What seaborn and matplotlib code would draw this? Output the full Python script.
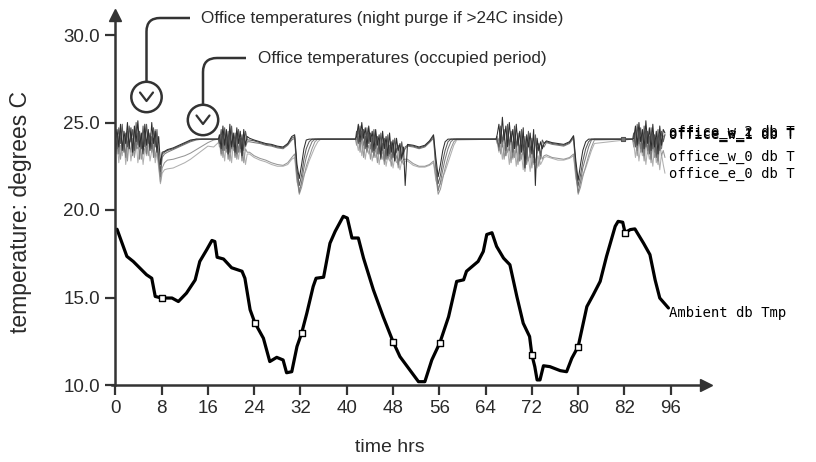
import numpy as np
import pandas as pd
import matplotlib
matplotlib.use("Agg")
import matplotlib.pyplot as plt
import seaborn as sns
from matplotlib.patches import Circle, PathPatch
from matplotlib.path import Path
from matplotlib.transforms import IdentityTransform
from matplotlib.lines import Line2D

# ---------------- data ----------------
office_hours = [
    # night (purge) noise
    0.0, 0.3, 0.6, 0.9, 1.2, 1.5, 1.8, 2.1, 2.4, 2.7, 3.0, 3.3, 3.6, 3.9, 4.2, 4.5, 4.8, 5.1, 5.4, 5.7, 6.0, 6.3, 6.6, 6.9, 7.2, 7.5,
    # occupied day 1
    7.8, 8.1, 8.5, 9, 10, 11, 12, 13, 14, 15, 16, 17, 17.8,
    # noise
    18.0, 18.3, 18.6, 18.9, 19.2, 19.5, 19.8, 20.1, 20.4, 20.7, 21.0, 21.3, 21.6, 21.9, 22.2, 22.5, 22.8,
    # decline + dip + flat
    23.2, 24, 25, 26, 27, 28, 29, 29.8, 30.5, 31.0, 31.4, 31.8, 32.2, 32.6, 33.0, 33.5, 34.0, 34.5, 35.0, 35.5, 41.5,
    # noise
    41.7, 42.0, 42.3, 42.6, 42.9, 43.2, 43.5, 43.8, 44.1, 44.4, 44.7, 45.0, 45.3, 45.6, 45.9, 46.2, 46.5, 46.8, 47.1, 47.4,
    47.7, 48.0, 48.3, 48.6, 48.9, 49.2, 49.5, 49.8, 50.1,
    # decline + dip + flat
    50.5, 51.5, 52.5, 53.5, 54.3, 55.0, 55.4, 55.8, 56.2, 56.6, 57.0, 57.5, 58.0, 58.5, 59.0, 65.8,
    # noise
    66.0, 66.3, 66.6, 66.9, 67.2, 67.5, 67.8, 68.1, 68.4, 68.7, 69.0, 69.3, 69.6, 69.9, 70.2, 70.5, 70.8, 71.1, 71.4, 71.7,
    72.0, 72.3, 72.6, 72.9, 73.2, 73.5, 73.8, 74.1,
    # decline + dip + flat
    74.5, 75.5, 76.5, 77.5, 78.5, 79.2, 79.6, 80.0, 80.4, 80.8, 81.3, 81.8, 82.3, 82.8, 89.4,
    # noise
    89.6, 89.9, 90.2, 90.5, 90.8, 91.1, 91.4, 91.7, 92.0, 92.3, 92.6, 92.9, 93.2, 93.5, 93.8, 94.1, 94.4, 94.7, 95.0,
]

office_w_2 = [
    24.0, 24.6, 23.6, 24.9, 23.4, 24.5, 23.8, 25.0, 23.5, 24.7, 23.3, 24.8, 23.9, 25.1, 23.6, 24.4, 23.2, 24.9, 23.7, 24.6, 23.4, 25.0, 23.8, 24.5, 23.3, 24.2,
    22.6, 23.3, 23.35, 23.45, 23.55, 23.7, 23.85, 24.0, 24.05, 24.05, 24.05, 24.05, 24.05,
    24.3, 23.5, 24.8, 23.7, 24.6, 23.2, 24.9, 23.6, 24.4, 23.3, 24.7, 23.8, 24.5, 23.1, 24.6, 23.7, 24.2,
    24.1, 24.0, 23.9, 23.8, 23.75, 23.65, 23.6, 23.8, 24.2, 24.3, 22.6, 21.8, 22.6, 23.5, 24.0, 24.05, 24.05, 24.05, 24.05, 24.05, 24.05,
    24.2, 24.9, 23.9, 25.0, 24.1, 24.7, 23.6, 24.8, 23.9, 24.5, 23.4, 24.6, 23.7, 24.3, 22.9, 24.5, 23.5, 24.2, 23.1, 24.4,
    23.3, 24.0, 22.8, 24.1, 23.4, 23.8, 22.9, 23.6, 21.4,
    23.75, 23.7, 23.6, 23.7, 23.95, 24.3, 23.0, 21.9, 22.6, 23.4, 23.9, 24.05, 24.05, 24.05, 24.05, 24.05,
    24.3, 24.9, 23.8, 25.3, 24.0, 24.8, 23.6, 25.0, 23.9, 24.6, 23.5, 24.9, 23.7, 24.5, 23.3, 24.7, 22.4, 24.3, 23.6, 24.4,
    23.2, 24.6, 21.4, 24.1, 23.4, 23.9, 23.5, 23.8,
    23.95, 23.85, 23.8, 23.75, 23.9, 24.25, 22.8, 21.7, 22.6, 23.4, 23.9, 24.05, 24.05, 24.05, 24.05,
    24.1, 24.8, 23.7, 25.0, 23.9, 24.6, 23.5, 25.1, 23.8, 24.7, 23.4, 24.9, 23.6, 24.5, 23.2, 24.8, 23.7, 24.6, 24.4,
]
office_e_1 = [
    24.3, 23.5, 24.7, 23.8, 24.9, 23.3, 24.4, 23.6, 24.8, 23.9, 24.6, 23.4, 25.0, 23.7, 24.5, 23.5, 24.8, 23.6, 24.9, 23.8, 24.4, 23.5, 24.7, 23.6, 24.6, 23.0,
    22.2, 23.2, 23.3, 23.4, 23.5, 23.65, 23.8, 23.95, 24.05, 24.05, 24.05, 24.05, 24.05,
    23.8, 24.6, 23.4, 24.7, 23.5, 24.5, 23.3, 24.8, 23.6, 24.4, 23.2, 24.6, 23.5, 24.3, 23.4, 24.5, 24.0,
    24.0, 23.95, 23.85, 23.75, 23.7, 23.6, 23.55, 23.75, 24.1, 24.2, 22.3, 21.4, 22.0, 22.9, 23.5, 23.9, 24.05, 24.05, 24.05, 24.05, 24.05,
    24.5, 23.8, 24.8, 24.0, 24.6, 23.5, 24.7, 23.8, 24.4, 23.3, 24.6, 23.5, 24.2, 23.2, 24.4, 23.4, 24.1, 22.9, 24.3, 23.2,
    23.9, 23.0, 24.1, 23.3, 23.7, 22.8, 23.9, 23.2, 23.6,
    23.7, 23.65, 23.55, 23.65, 23.9, 24.2, 22.6, 21.5, 22.0, 22.8, 23.4, 23.9, 24.05, 24.05, 24.05, 24.05,
    24.0, 23.6, 24.8, 23.9, 24.6, 23.4, 24.9, 23.7, 24.5, 23.3, 24.8, 23.6, 24.4, 23.2, 24.6, 23.4, 24.2, 22.9, 24.5, 23.3,
    24.1, 23.0, 24.3, 23.4, 23.8, 23.1, 24.0, 23.8,
    23.9, 23.8, 23.75, 23.7, 23.85, 24.2, 22.5, 21.4, 22.0, 22.8, 23.5, 23.9, 24.05, 24.05, 24.05,
    24.4, 23.6, 24.9, 23.8, 24.7, 23.3, 24.8, 23.6, 24.5, 23.2, 24.7, 23.5, 24.3, 23.0, 24.6, 23.4, 24.5, 23.9, 24.3,
]
office_w_1 = [
    23.8, 24.4, 23.2, 24.6, 23.6, 24.2, 23.0, 24.5, 23.7, 24.3, 23.1, 24.6, 23.5, 24.4, 22.9, 24.3, 23.6, 24.5, 23.2, 24.4, 23.7, 24.2, 23.0, 24.6, 23.5, 22.8,
    21.9, 23.0, 23.2, 23.3, 23.45, 23.6, 23.75, 23.9, 24.0, 24.05, 24.05, 24.05, 24.05,
    24.1, 23.2, 24.5, 23.4, 24.3, 22.9, 24.4, 23.5, 24.2, 23.0, 24.5, 23.3, 24.1, 22.8, 24.3, 23.6, 23.9,
    23.9, 23.85, 23.8, 23.7, 23.65, 23.55, 23.5, 23.7, 24.0, 24.1, 22.0, 21.0, 21.6, 22.4, 23.0, 23.5, 23.9, 24.05, 24.05, 24.05, 24.05,
    24.0, 24.6, 23.6, 24.5, 23.7, 24.2, 23.3, 24.4, 23.5, 24.1, 23.0, 24.3, 23.2, 24.0, 23.4, 23.8, 22.8, 24.0, 23.0, 23.7,
    22.9, 23.8, 23.1, 23.5, 22.6, 23.6, 23.0, 23.3, 23.5,
    23.65, 23.6, 23.5, 23.6, 23.85, 24.1, 22.3, 21.1, 21.6, 22.3, 22.9, 23.5, 23.9, 24.05, 24.05, 24.05,
    24.2, 23.4, 24.5, 23.6, 24.3, 23.1, 24.6, 23.4, 24.2, 23.0, 24.4, 23.3, 24.1, 22.8, 24.3, 23.2, 23.9, 22.6, 24.2, 23.0,
    23.8, 22.7, 24.0, 23.2, 23.6, 22.9, 23.7, 23.6,
    23.85, 23.75, 23.7, 23.65, 23.8, 24.1, 22.2, 21.0, 21.6, 22.4, 23.0, 23.6, 24.0, 24.05, 24.05,
    23.9, 24.5, 23.4, 24.6, 23.5, 24.3, 23.1, 24.5, 23.4, 24.2, 22.9, 24.4, 23.3, 24.1, 22.8, 24.3, 23.5, 24.2, 24.3,
]
office_w_0 = [
    23.9, 23.2, 24.2, 22.9, 23.8, 23.4, 24.3, 22.8, 23.9, 23.3, 24.1, 23.0, 23.7, 23.5, 24.2, 22.9, 23.6, 23.4, 24.0, 23.1, 23.8, 23.3, 24.1, 23.0, 23.6, 22.6,
    21.6, 22.4, 22.7, 22.85, 22.9, 23.0, 23.1, 23.25, 23.45, 23.65, 23.85, 24.0, 24.05,
    23.6, 24.2, 23.0, 23.9, 23.3, 24.1, 22.8, 23.7, 23.4, 24.0, 22.9, 23.6, 23.3, 23.9, 22.7, 23.5, 23.3,
    23.3, 23.1, 22.95, 22.85, 22.7, 22.6, 22.55, 22.7, 23.0, 23.2, 21.8, 20.9, 21.3, 21.9, 22.5, 23.0, 23.5, 23.9, 24.05, 24.05, 24.05,
    23.7, 24.2, 23.3, 24.1, 23.0, 23.9, 23.4, 23.7, 22.9, 23.8, 23.1, 23.5, 22.7, 23.6, 23.0, 23.4, 22.6, 23.5, 22.9, 23.2,
    22.5, 23.3, 22.8, 23.1, 22.4, 23.2, 22.7, 22.9, 22.9,
    22.9, 22.65, 22.5, 22.5, 22.6, 22.8, 21.9, 20.9, 21.2, 21.8, 22.4, 23.0, 23.5, 23.9, 24.05, 24.05,
    23.8, 24.1, 23.2, 24.0, 22.9, 23.8, 23.3, 23.6, 22.7, 23.9, 23.0, 23.5, 22.6, 23.7, 22.9, 23.4, 22.2, 23.6, 22.8, 23.3,
    22.4, 23.4, 22.7, 23.2, 22.5, 23.3, 22.9, 23.1,
    23.15, 23.0, 22.95, 22.9, 23.0, 23.2, 22.0, 20.9, 21.3, 21.9, 22.5, 23.1, 23.6, 24.0, 24.05,
    23.6, 24.2, 23.1, 24.0, 23.3, 23.8, 22.8, 24.0, 23.2, 23.7, 22.7, 23.9, 23.0, 23.6, 22.6, 23.8, 23.1, 23.4, 23.0,
]
office_e_0 = [
    23.6, 24.0, 22.7, 23.7, 23.1, 24.0, 22.6, 23.5, 23.9, 22.8, 23.6, 23.2, 24.0, 22.7, 23.4, 23.8, 22.6, 23.5, 23.1, 23.9, 22.8, 23.4, 23.7, 22.7, 23.3, 22.4,
    21.5, 22.1, 22.3, 22.35, 22.4, 22.55, 22.7, 22.9, 23.15, 23.4, 23.65, 23.6, 23.85,
    23.8, 23.1, 23.7, 22.8, 23.9, 23.2, 23.6, 22.7, 23.8, 23.1, 23.5, 22.9, 23.7, 23.0, 23.4, 22.6, 23.2,
    23.2, 23.0, 22.85, 22.75, 22.6, 22.5, 22.5, 22.6, 22.9, 23.0, 21.6, 21.2, 21.5, 22.0, 22.3, 22.8, 23.2, 23.6, 23.9, 24.05, 24.05,
    23.9, 23.4, 24.0, 23.1, 23.8, 22.9, 23.6, 23.2, 23.7, 22.8, 23.4, 23.0, 23.5, 22.6, 23.3, 22.9, 23.4, 22.5, 23.1, 22.8,
    23.2, 22.4, 23.0, 22.7, 22.9, 22.3, 22.8, 22.6, 22.8,
    22.8, 22.55, 22.45, 22.45, 22.55, 22.7, 21.7, 21.3, 21.5, 21.9, 22.2, 22.7, 23.2, 23.7, 24.0, 24.05,
    23.9, 23.3, 23.8, 22.9, 23.7, 23.1, 23.5, 22.6, 23.6, 22.9, 23.4, 22.5, 23.5, 22.8, 23.2, 22.3, 23.4, 22.7, 23.0, 22.2,
    23.3, 22.6, 22.9, 22.4, 23.1, 22.6, 22.8, 23.0,
    23.05, 22.95, 22.85, 22.85, 22.95, 23.1, 21.8, 21.3, 21.6, 22.0, 22.4, 22.9, 23.4, 23.8, 24.05,
    23.8, 23.0, 23.9, 22.8, 23.6, 23.1, 23.7, 22.6, 23.5, 22.9, 23.4, 22.5, 23.6, 22.7, 23.3, 22.3, 23.2, 22.6, 22.1,
]

office_names = ["office_e_0", "office_w_0", "office_w_1", "office_e_1", "office_w_2"]
office_colors = ["#b0b0b0", "#969696", "#7a7a7a", "#5a5a5a", "#2e2e2e"]
office_label_y = [22.05, 23.02, 24.28, 24.33, 24.48]

ambient_hours = [0.3, 2.0, 3.1, 5.4, 6.3, 6.9, 8.0, 9.8, 10.9, 12.3, 13.8, 14.6, 15.8, 16.7, 17.2, 17.6, 18.7,
                 20.1, 21.9, 22.4, 23.3, 24.1, 25.6, 26.7, 27.9, 29.0, 29.6, 30.5, 31.4, 32.2, 33.1, 34.2,
                 34.7, 36.0, 37.1, 38.0, 39.4, 40.1, 40.9, 42.0, 42.9, 44.6, 46.3, 48.0, 49.2, 50.9, 52.4,
                 53.5, 54.7, 56.1, 57.6, 59.0, 60.2, 60.7, 62.7, 63.6, 64.2, 65.1, 65.9, 67.1, 68.2, 69.4,
                 70.5, 71.6, 72.0, 72.5, 72.9, 73.4, 74.0, 75.1, 76.9, 78.0, 78.9, 80.0, 81.5, 82.6, 83.8,
                 84.9, 86.4, 86.9, 87.7, 88.1, 89.0, 89.8, 91.3, 92.4, 93.3, 94.1, 95.6]
ambient_temp = [18.9, 17.35, 17.06, 16.3, 16.1, 15.06, 14.97, 14.97, 14.77, 15.25, 16.0, 17.06, 17.73, 18.26, 18.2,
                17.3, 17.2, 16.7, 16.5, 16.1, 14.3, 13.57, 12.67, 11.34, 11.58, 11.43, 10.7, 10.76, 12.2, 12.96,
                14.1, 15.63, 16.1, 16.16, 18.1, 18.78, 19.64, 19.54, 18.4, 18.4, 17.25, 15.44, 13.9, 12.48, 11.62,
                10.86, 10.19, 10.19, 11.43, 12.42, 13.9, 15.92, 16.01, 16.5, 17.06, 17.63, 18.6, 18.7, 17.92,
                17.25, 16.87, 15.06, 13.53, 12.77, 11.72, 11.05, 10.29, 10.29, 11.1, 11.05, 10.82, 10.76, 11.53,
                12.2, 14.48, 15.15, 15.92, 17.35, 19.07, 19.35, 19.3, 18.7, 18.88, 18.92, 18.1, 17.45, 16.0,
                14.97, 14.4]
ambient_marker_hours = [8.0, 24.1, 32.2, 48.0, 56.1, 72.0, 80.0, 88.1]
ambient_marker_temp = [14.97, 13.57, 12.96, 12.48, 12.42, 11.72, 12.2, 18.7]

x_ticks = [0, 8, 16, 24, 32, 40, 48, 56, 64, 72, 80, 88, 96]
x_tick_labels = ["0", "8", "16", "24", "32", "40", "48", "56", "64", "72", "80", "82", "96"]
y_ticks = [10.0, 15.0, 20.0, 25.0, 30.0]

note_night = "Office temperatures (night purge if >24C inside)"
note_occupied = "Office temperatures (occupied period)"

# ---------------- figure ----------------
sns.set_theme(style="white")
plt.rcParams["font.family"] = ["Liberation Sans", "DejaVu Sans"]

W, H = 816, 462
fig = plt.figure(figsize=(W / 100, H / 100), dpi=100)
fig.patch.set_facecolor("white")

ax_l, ax_r, ax_b, ax_t = 115.3, 706.0, 385.0, 15.0  # pixel edges
ax = fig.add_axes([ax_l / W, (H - ax_b) / H, (ax_r - ax_l) / W, (ax_b - ax_t) / H])
px_per_h = 5.786
px_per_c = 17.5
ax.set_xlim(0, (ax_r - ax_l) / px_per_h)
ax.set_ylim(10, 10 + (ax_b - ax_t) / px_per_c)

office_series = {
    "office_e_0": office_e_0, "office_w_0": office_w_0, "office_w_1": office_w_1,
    "office_e_1": office_e_1, "office_w_2": office_w_2,
}
rows = []
for name in office_names:
    for h, v in zip(office_hours, office_series[name]):
        rows.append((name, h, v))
df = pd.DataFrame(rows, columns=["series", "hours", "temp"])

sns.lineplot(data=df, x="hours", y="temp", hue="series", hue_order=office_names,
             palette=dict(zip(office_names, office_colors)), estimator=None, sort=False,
             linewidth=0.75, legend=False, ax=ax)
sns.scatterplot(x=[87.8], y=[24.05], marker="s", s=10, color="#777777", edgecolor="#555555",
                linewidth=0.8, ax=ax, legend=False, zorder=3)

sns.lineplot(x=ambient_hours, y=ambient_temp, color="black", linewidth=2.3, estimator=None,
             sort=False, ax=ax, legend=False)
sns.scatterplot(x=ambient_marker_hours, y=ambient_marker_temp, marker="s", s=16, color="white",
                edgecolor="black", linewidth=1.0, ax=ax, legend=False, zorder=4)

# series labels at the right end (overlapping as in the source chart)
mono = "DejaVu Sans Mono"
for name, ly in zip(office_names, office_label_y):
    ax.text(95.7, ly, f"{name} db T", fontsize=10.0, family=mono, color="black",
            va="center", ha="left", clip_on=False)
ax.text(95.7, 14.1, "Ambient db Tmp", fontsize=10.0, family=mono, color="black",
        va="center", ha="left", clip_on=False)

# axes styling
axis_col = "#333333"
for s in ["top", "right"]:
    ax.spines[s].set_visible(False)
for s in ["left", "bottom"]:
    ax.spines[s].set_color(axis_col)
    ax.spines[s].set_linewidth(1.8)
ax.spines["bottom"].set_bounds(-0.6, ax.get_xlim()[1])
ax.set_xticks(x_ticks)
ax.set_xticklabels(x_tick_labels)
ax.set_yticks(y_ticks)
ax.set_yticklabels([f"{v:.1f}" for v in y_ticks])
ax.tick_params(axis="both", direction="out", length=7, width=1.6, color=axis_col,
               labelcolor="#2a2a2a", labelsize=13.5, pad=4, bottom=True, left=True)
ax.plot(1, 0, marker=">", markersize=9, color=axis_col, transform=ax.transAxes, clip_on=False)
ax.plot(0, 1, marker="^", markersize=9, color=axis_col, transform=ax.transAxes, clip_on=False)

ax.set_xlabel("time hrs", fontsize=14, color="#2a2a2a")
ax.set_ylabel("temperature: degrees C", fontsize=16.5, color="#2a2a2a")
ax.xaxis.set_label_coords((390 - ax_l) / (ax_r - ax_l), -(447 - ax_b) / (ax_b - ax_t))
ax.xaxis.label.set_va("center")
ax.yaxis.set_label_coords((21 - ax_l) / (ax_r - ax_l), (ax_b - 212) / (ax_b - ax_t))
ax.yaxis.label.set_va("center")

# ---------------- callouts (pixel coordinates, y measured from top) ----------------
ident = IdentityTransform()
def P(x, y):
    return (x, H - y)

def callout(cx, cy, corner_x, end_x, text_x, text_y, text):
    circ = Circle(P(cx, cy), 15.2, transform=ident, facecolor="white", edgecolor=axis_col,
                  linewidth=1.8, zorder=10)
    fig.add_artist(circ)
    chev = Line2D([cx - 6.5, cx, cx + 6.5], [H - (cy - 4.5), H - (cy + 4.0), H - (cy - 4.5)],
                  transform=ident, color=axis_col, linewidth=1.6, zorder=11)
    fig.add_artist(chev)
    verts = [P(cx, cy - 15.2), P(cx, text_y + (corner_x - cx)), P(cx, text_y), P(corner_x, text_y), P(end_x, text_y)]
    codes = [Path.MOVETO, Path.LINETO, Path.CURVE3, Path.CURVE3, Path.LINETO]
    fig.add_artist(PathPatch(Path(verts, codes), transform=ident, facecolor="none",
                             edgecolor=axis_col, linewidth=1.8, zorder=10))
    fig.text(text_x / W, (H - text_y) / H, text, fontsize=12.3, color="#2a2a2a",
             ha="left", va="center")

callout(146.5, 97.0, 160, 190, 201, 18, note_night)
callout(203.0, 120.0, 217, 246, 258, 58, note_occupied)

fig.savefig("out.png", dpi=100)
